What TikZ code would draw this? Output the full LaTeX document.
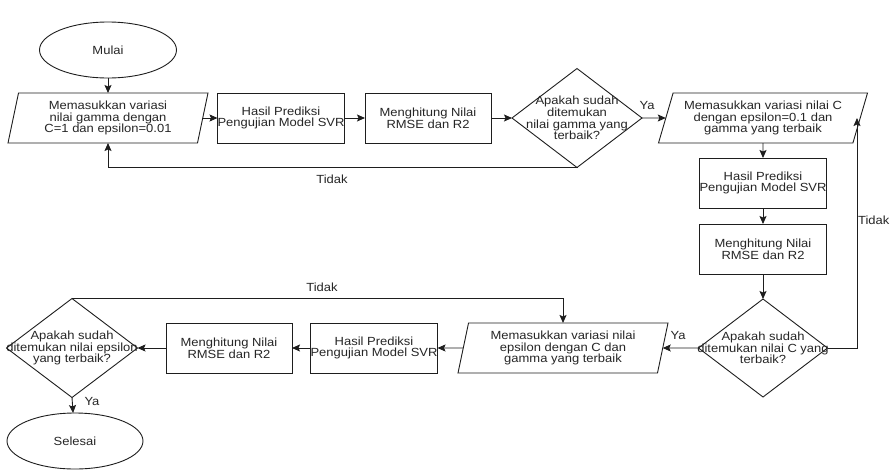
\documentclass[tikz,border=0pt]{standalone}
\usepackage{fontspec}
\setmainfont{Liberation Sans}[FakeStretch=1.1]
\usetikzlibrary{shapes.geometric,arrows.meta,positioning}
\definecolor{ln}{HTML}{1E1E1E}
\definecolor{tx}{HTML}{262626}
\tikzset{
  base/.style={draw=ln, line width=0.9pt, inner sep=0pt, outer sep=0pt, align=center,
    text=tx, font=\fontsize{11.8}{11.7}\selectfont},
  term/.style={base, ellipse, minimum width=137pt, minimum height=56pt},
  procbox/.style={base, rectangle, minimum width=127pt, minimum height=50pt},
  iobox/.style={base, trapezium, trapezium stretches body, minimum height=50pt},
  decis/.style={base, diamond, minimum width=130pt, minimum height=99pt},
  dtext/.style={align=center, text=tx, inner sep=0pt, font=\fontsize{11.8}{11.7}\selectfont},
  lbl/.style={text=tx, inner sep=0pt, font=\fontsize{11.8}{11.7}\selectfont},
  arr/.style={draw=ln, line width=0.9pt, -{Stealth[length=8pt,width=7pt,inset=1.5pt]}},
  ln/.style={draw=ln, line width=0.9pt}
}
\begin{document}
\begin{tikzpicture}[x=1pt,y=-1pt]
\useasboundingbox (0,0) rectangle (890,469);
\fill[white] (0,0) rectangle (890,469);

% nodes
\node[term] (start) at (108,50) {Mulai};
\node[iobox, trapezium left angle=73, trapezium right angle=107, minimum width=200pt] (p1) at (108,118)
  {Memasukkan variasi\\nilai gamma dengan\\C=1 dan epsilon=0.01};
\node[procbox] (b1) at (281,118) {Hasil Prediksi\\Pengujian Model SVR};
\node[procbox, minimum width=126pt] (b2) at (428,118) {Menghitung Nilai\\RMSE dan R2};
\node[decis] (d1) at (577,118) {};
\node[dtext] (d1t) at (577,118) {Apakah sudah\\ditemukan\\nilai gamma yang\\terbaik?};
\node[iobox, trapezium left angle=67, trapezium right angle=113, minimum width=209pt] (p2) at (763,118)
  {Memasukkan variasi nilai C\\dengan epsilon=0.1 dan\\gamma yang terbaik};
\node[procbox] (b3) at (763,183) {Hasil Prediksi\\Pengujian Model SVR};
\node[procbox] (b4) at (763,249) {Menghitung Nilai\\RMSE dan R2};
\node[decis, minimum width=129pt, minimum height=98pt] (d2) at (763,348) {};
\node[dtext] (d2t) at (763,348) {Apakah sudah\\ditemukan nilai C yang\\terbaik?};
\node[iobox, trapezium left angle=73, trapezium right angle=107, minimum width=210pt] (p3) at (563,348)
  {Memasukkan variasi nilai\\epsilon dengan C dan\\gamma yang terbaik};
\node[procbox, minimum width=125pt] (b5) at (374,348) {Hasil Prediksi\\Pengujian Model SVR};
\node[procbox, minimum width=126pt] (b6) at (229,348) {Menghitung Nilai\\RMSE dan R2};
\node[decis, minimum width=131pt] (d3) at (72,348) {};
\node[dtext] (d3t) at (72,348) {Apakah sudah\\ditemukan nilai epsilon\\yang terbaik?};
\node[term, minimum width=136pt] (stop) at (75,441) {Selesai};

% connectors
\draw[arr] (start) -- (p1);
\draw[arr] (p1.east) -- (b1.west);
\draw[arr] (b1) -- (b2);
\draw[arr] (b2) -- (d1.west);
\draw[arr] (d1.east) -- (p2.west);
\coordinate (fb1) at (108,167);
\draw[arr] (d1.south) -- (d1.south |- fb1) -| (p1.south);
\draw[arr] (p2.south) -- (b3.north);
\draw[arr] (b3) -- (b4);
\draw[arr] (b4) -- (d2.north);
\coordinate (fb2) at (857,118);
\draw[arr] (d2.east) -| (fb2);
\draw[arr] (d2.west) -- (p3.east);
\draw[arr] (p3.west) -- (b5.east);
\draw[arr] (b5) -- (b6);
\draw[arr] (b6.west) -- (d3.east);
\draw[arr] (d3.north) -| (p3.north);
\draw[arr] (d3.south) -- (stop);

% labels
\node[lbl] (l1) at (647,105) {Ya};
\node[lbl] (l2) at (332,179) {Tidak};
\node[lbl, anchor=east] (l3) at (889.5,220) {Tidak};
\node[lbl] (l4) at (678,335) {Ya};
\node[lbl] (l5) at (322,287) {Tidak};
\node[lbl] (l6) at (92,401) {Ya};
\end{tikzpicture}
\end{document}
